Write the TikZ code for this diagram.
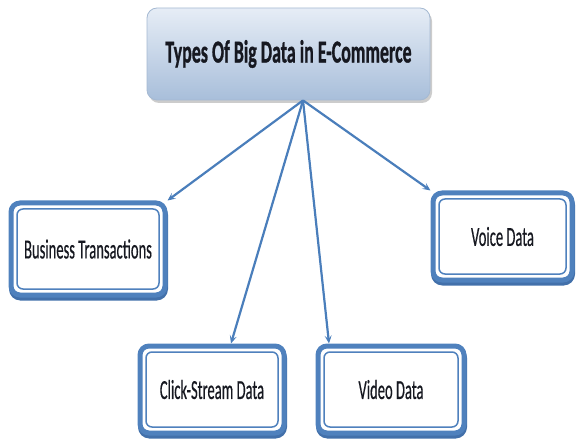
\documentclass[tikz,border=0pt]{standalone}
\usepackage{fontspec}
\setmainfont{Carlito}
\newfontfamily\leaffont[FakeBold=0.6]{Carlito}
\newfontfamily\headfont[FakeBold=1.2]{Carlito Bold}
\usepackage{graphicx}
\usetikzlibrary{arrows.meta,shadows,calc}
\definecolor{edgeblue}{RGB}{79,129,189}
\definecolor{shadeblue}{RGB}{66,112,170}
\definecolor{lineblue}{RGB}{74,126,187}
\definecolor{titletop}{RGB}{230,237,246}
\definecolor{titlebot}{RGB}{168,190,218}
\definecolor{titleedge}{RGB}{165,185,210}
\definecolor{inkdark}{RGB}{22,24,32}
% condensed lettering
\newcommand\narrow[1]{\scalebox{0.53}[1]{#1}}
\newcommand\headnarrow[1]{\scalebox{0.56}[1]{#1}}

\begin{document}
\begin{tikzpicture}[x=1pt,y=-1pt,
  titlebox/.style={rectangle, rounded corners=10pt, draw=titleedge, line width=0.8pt,
    top color=titletop, bottom color=titlebot, minimum width=283pt, minimum height=92pt,
    inner sep=0pt, text=inkdark, font=\headfont\fontsize{32}{36}\selectfont,
    drop shadow={shadow xshift=2pt, shadow yshift=-3pt, fill=black, opacity=0.2}},
  leafbox/.style={rectangle, rounded corners=9pt, draw=edgeblue, line width=5pt, fill=white,
    inner sep=0pt, text=inkdark, font=\leaffont\fontsize{27.5}{30}\selectfont,
    drop shadow={shadow xshift=0.5pt, shadow yshift=-3pt, fill=shadeblue, draw=shadeblue,
      line width=5pt, opacity=1},
    path picture={\draw[edgeblue, line width=1.5pt, rounded corners=6pt]
      ([xshift=6pt,yshift=-6pt]path picture bounding box.north west) rectangle
      ([xshift=-6pt,yshift=6pt]path picture bounding box.south east);}},
  arr/.style={draw=lineblue, line width=2.2pt, -{Stealth[length=8pt,width=7pt,inset=3.5pt]}}
]
\useasboundingbox (0,0) rectangle (576,441);

\node[titlebox] (top) at (288.5,54) {\headnarrow{Types Of Big Data in E-Commerce}};

\node[leafbox, minimum width=154pt, minimum height=92pt] (biz) at (88,249) {\narrow{Business Transactions}};
\node[leafbox, minimum width=139pt, minimum height=87pt] (voice) at (502.5,236.5) {\narrow{Voice Data}};
\node[leafbox, minimum width=144pt, minimum height=87pt] (click) at (212,389.5) {\narrow{Click-Stream Data}};
\node[leafbox, minimum width=146pt, minimum height=87pt] (video) at (391,389.5) {\narrow{Video Data}};

\coordinate (hub) at ([xshift=14.5pt]top.south);

\draw[arr] (hub) -- (biz.north east);
\draw[arr] (hub) -- ([xshift=19pt]click.north);
\draw[arr] (hub) -- ([xshift=-62pt]video.north);
\draw[arr] (hub) -- (voice.north west);
\end{tikzpicture}
\end{document}
